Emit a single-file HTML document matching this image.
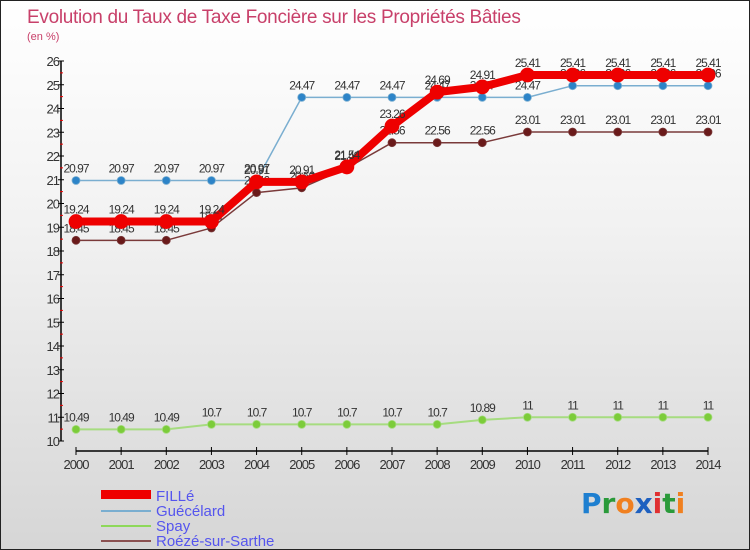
<!DOCTYPE html>
<html><head><meta charset="utf-8"><style>
body{margin:0}
#c{width:750px;height:550px;position:relative;box-sizing:border-box;border:1px solid #222;background:linear-gradient(#ffffff 0%,#f2f2f2 40%,#d6d6d6 100%);font-family:"Liberation Sans",sans-serif;overflow:hidden}
</style></head><body>
<div id="c">
<svg id="s" width="750" height="550" style="position:absolute;left:0;top:0">
<text x="26" y="22" font-size="19" fill="#c8406a" letter-spacing="-0.3">Evolution du Taux de Taxe Foncière sur les Propriétés Bâties</text>
<text x="26" y="39" font-size="11" fill="#c8406a">(en %)</text>
<g id="axes"></g><g id="series"></g>
<g>
<rect x="100" y="489" width="50" height="9" fill="#e00"/>
<text x="155" y="500" font-size="15" fill="#5555ee">FILLé</text>
<line x1="100" y1="510" x2="150" y2="510" stroke="#7aaed0" stroke-width="2"/>
<text x="155" y="515" font-size="15" fill="#5555ee">Guécélard</text>
<line x1="100" y1="525" x2="150" y2="525" stroke="#8ed85a" stroke-width="2"/>
<text x="155" y="530" font-size="15" fill="#5555ee">Spay</text>
<line x1="100" y1="540" x2="150" y2="540" stroke="#8a5050" stroke-width="2"/>
<text x="155" y="545" font-size="15" fill="#5555ee">Roézé-sur-Sarthe</text>
</g>
<g font-size="28" font-weight="bold" font-family="'DejaVu Sans',sans-serif">
<text x="580" y="512"><tspan fill="#1e7fd0">P</tspan><tspan fill="#2a9a3a">r</tspan><tspan fill="#f08020">o</tspan><tspan fill="#1e60c0">x</tspan><tspan fill="#e03030">i</tspan><tspan fill="#2a9a3a">t</tspan><tspan fill="#f08020">i</tspan></text>
</g>
</svg>
</div>
<script>
const years=[2000,2001,2002,2003,2004,2005,2006,2007,2008,2009,2010,2011,2012,2013,2014];
const fille=[19.24,19.24,19.24,19.24,20.91,20.91,21.54,23.26,24.69,24.91,25.41,25.41,25.41,25.41,25.41];
const guecelard=[20.97,20.97,20.97,20.97,20.97,24.47,24.47,24.47,24.47,24.47,24.47,24.96,24.96,24.96,24.96];
const spay=[10.49,10.49,10.49,10.7,10.7,10.7,10.7,10.7,10.7,10.89,11,11,11,11,11];
const roeze=[18.45,18.45,18.45,18.97,20.46,20.66,21.49,22.56,22.56,22.56,23.01,23.01,23.01,23.01,23.01];
const yTicks=[10,11,12,13,14,15,16,17,18,19,20,21,22,23,24,25,26];
const NS="http://www.w3.org/2000/svg";
const X=i=>75+i*(707-75)/14;
const Y=v=>440-(v-10)*(440-60)/16;
function mk(t,a,p){const e=document.createElementNS(NS,t);for(const k in a)e.setAttribute(k,a[k]);p.appendChild(e);return e;}
const ax=document.getElementById('axes');
const yl=mk('line',{x1:60,y1:60,x2:60,y2:440,stroke:'#000','stroke-width':1.5},ax);


yTicks.forEach(v=>{
 mk('line',{x1:57,y1:Y(v),x2:63,y2:Y(v),stroke:'#000'},ax);
 if(v<26)mk('line',{x1:59,y1:Y(v+0.5),x2:62,y2:Y(v+0.5),stroke:'#e00'},ax);
 const t=mk('text',{x:58,y:Y(v)+5,'font-size':13,fill:'#333','text-anchor':'end','letter-spacing':'-1'},ax);t.textContent=v;
 
 
});
const xl=mk('line',{x1:75,y1:450,x2:707,y2:450,stroke:'#000','stroke-width':1.5},ax);


years.forEach((y,i)=>{
 mk('line',{x1:X(i),y1:446,x2:X(i),y2:454,stroke:'#000'},ax);
 const t=mk('text',{x:X(i),y:468,'font-size':13,fill:'#333','text-anchor':'middle','letter-spacing':'-1'},ax);t.textContent=y;
 
 
});
const sg=document.getElementById('series');
function series(d,name,col,w,r,dot,lab){
 const g=mk('g',{},sg);
 
 
 const l=mk('polyline',{points:d.map((v,i)=>X(i)+','+Y(v)).join(' '),fill:'none',stroke:col,'stroke-width':w,'stroke-linejoin':'round'},g);
 
 
 d.forEach((v,i)=>{
  const c=mk('circle',{cx:X(i),cy:Y(v),r:r,fill:dot,stroke:col,'stroke-width':0.8},g);
  
  
  const t=mk('text',{x:X(i),y:Y(v)-8,'font-size':12,fill:lab,'text-anchor':'middle','letter-spacing':'-1'},g);t.textContent=v;
  
  
 });
}
series(guecelard,'guecelard','#7aaed0',1.5,4,'#2d84c8','#333');
series(spay,'spay','#a6dc80',2,4,'#7ccc3a','#333');
series(roeze,'roeze','#7a3a3a',1.5,4,'#6a1a1a','#333');
series(fille,'fille','#ee0000',8,7,'#ee0000','#333');
</script>
</body></html>
